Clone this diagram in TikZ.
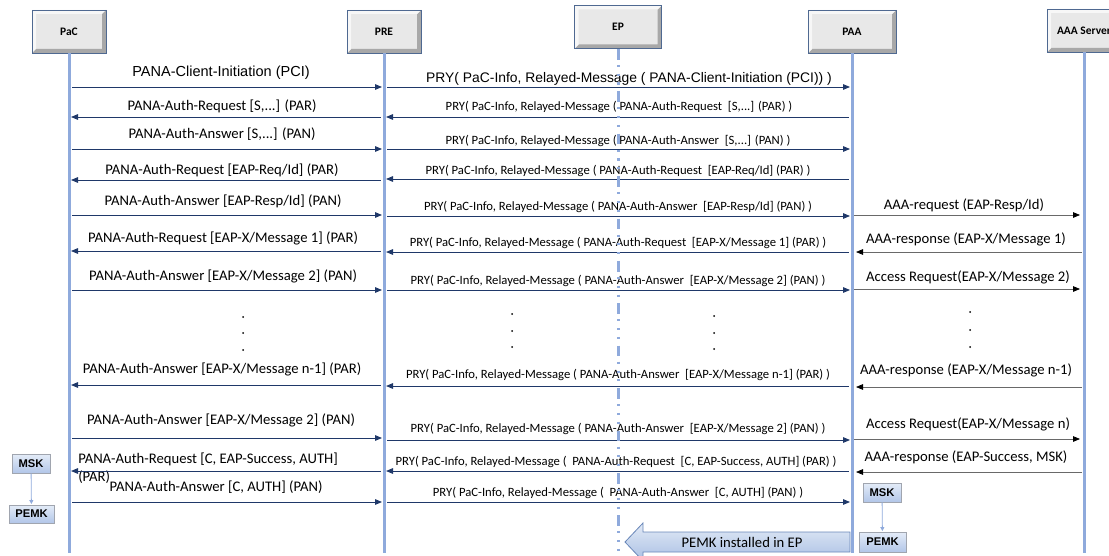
\documentclass[tikz,border=0pt]{standalone}
\usepackage{fontspec}
\setmainfont{Carlito}
\newfontfamily\arialfam{Liberation Sans}
\usetikzlibrary{arrows.meta}

\definecolor{msgnavy}{RGB}{31,56,105}
\definecolor{lifeblue}{RGB}{143,170,220}
\definecolor{boxedge}{RGB}{79,105,145}
\definecolor{boxface}{RGB}{232,232,232}
\definecolor{bevlight}{RGB}{247,247,247}
\definecolor{bevdark}{RGB}{168,168,168}
\definecolor{keytop}{RGB}{228,236,248}
\definecolor{keybot}{RGB}{178,198,232}
\definecolor{keyedge}{RGB}{160,165,175}
\definecolor{aaagray}{RGB}{105,105,105}
\definecolor{bigtop}{RGB}{226,234,246}
\definecolor{bigbot}{RGB}{170,192,228}
\definecolor{bigedge}{RGB}{105,135,185}

\begin{document}
\begin{tikzpicture}[x=0.75pt,y=-0.75pt,
  head/.style={draw=boxedge, line width=0.6pt, fill=boxface,
    minimum height=32.25pt, inner sep=0pt,
    font=\bfseries\fontsize{8.6}{10}\selectfont,
    path picture={
      \fill[bevdark] (path picture bounding box.south west)
        -- (path picture bounding box.south east)
        -- (path picture bounding box.north east)
        -- ([shift={(-3pt,-3pt)}]path picture bounding box.north east)
        -- ([shift={(-3pt,3pt)}]path picture bounding box.south east)
        -- ([shift={(3pt,3pt)}]path picture bounding box.south west) -- cycle;
      \fill[bevlight] (path picture bounding box.south west)
        -- (path picture bounding box.north west)
        -- (path picture bounding box.north east)
        -- ([shift={(-3pt,-3pt)}]path picture bounding box.north east)
        -- ([shift={(3pt,-3pt)}]path picture bounding box.north west)
        -- ([shift={(3pt,3pt)}]path picture bounding box.south west) -- cycle;
    }},
  life/.style={draw=lifeblue, line width=2.25pt},
  eplife/.style={draw=lifeblue, line width=2.25pt,
    dash pattern=on 8pt off 4pt on 1.6pt off 5pt on 1.6pt off 5pt on 1.6pt off 5pt},
  msg/.style={draw=msgnavy, line width=0.7pt,
    -{Triangle[length=5.25pt,width=4.2pt]}, shorten <=2.5pt, shorten >=1.5pt},
  aaamsg/.style={draw=aaagray, line width=0.6pt,
    -{Triangle[length=5.25pt,width=4.2pt,color=black]}, shorten <=1.5pt, shorten >=3pt},
  lab/.style={inner sep=0pt, font=\fontsize{11}{13.5}\selectfont},
  pry/.style={inner sep=0pt, font=\fontsize{9.5}{11}\selectfont},
  keybox/.style={draw=keyedge, line width=0.4pt, top color=keytop, bottom color=keybot,
    inner sep=0pt, font=\arialfam\bfseries\fontsize{8.4}{10}\selectfont},
  keyarrow/.style={draw=lifeblue, line width=0.6pt,
    -{Triangle[length=3pt,width=3pt]}, shorten >=0.5pt},
  dotn/.style={circle, fill=black, inner sep=0pt, minimum size=1.5pt}
]
\useasboundingbox (0,0) rectangle (1109,556);

% participants
\node[head, minimum width=55.5pt] (pac) at (69,31.5) {PaC};
\node[head, minimum width=55.5pt] (pre) at (384,31.5) {PRE};
\node[head, minimum width=65.25pt] (ep) at (618,27) {EP};
\node[head, minimum width=66pt] (paa) at (852,31.5) {PAA};
\node[head, minimum width=55.5pt] (aaa) at (1084,30.5) {AAA Server};

% lifelines
\draw[life] (pac.south) -- (pac.south |- 0,553);
\draw[life] (pre.south) -- (pre.south |- 0,553);
\draw[life] (paa.south) -- (paa.south |- 0,553);
\draw[life] (aaa.south) -- (aaa.south |- 0,553);

% PaC <-> PRE messages
\node[inner sep=0pt, font=\arialfam\fontsize{10.9}{13}\selectfont] (l1) at (221,73) {PANA-Client-Initiation (PCI)};
\draw[msg] (pac |- 0,87) -- (pre |- 0,87);
\node[lab] (l2) at (222,106) {PANA-Auth-Request [S,...] (PAR)};
\draw[msg] (pre |- 0,117) -- (pac |- 0,117);
\node[lab] (l3) at (222,134) {PANA-Auth-Answer [S,...] (PAN)};
\draw[msg] (pac |- 0,149) -- (pre |- 0,149);
\node[lab] (l4) at (222,170) {PANA-Auth-Request [EAP-Req/Id] (PAR)};
\draw[msg] (pre |- 0,180) -- (pac |- 0,180);
\node[lab] (l5) at (223,201) {PANA-Auth-Answer [EAP-Resp/Id] (PAN)};
\draw[msg] (pac |- 0,215) -- (pre |- 0,215);
\node[lab] (l6) at (223,238) {PANA-Auth-Request [EAP-X/Message 1] (PAR)};
\draw[msg] (pre |- 0,251) -- (pac |- 0,251);
\node[lab] (l7) at (223,276) {PANA-Auth-Answer [EAP-X/Message 2] (PAN)};
\draw[msg] (pac |- 0,290) -- (pre |- 0,290);
\node[dotn] (d1a) at (243,317) {};
\node[dotn] (d1b) at (243,333) {};
\node[dotn] (d1c) at (243,350) {};
\node[lab] (l8) at (222,369) {PANA-Auth-Answer [EAP-X/Message n-1] (PAR)};
\draw[msg] (pre |- 0,385) -- (pac |- 0,385);
\node[lab] (l9) at (221,420) {PANA-Auth-Answer [EAP-X/Message 2] (PAN)};
\draw[msg] (pac |- 0,438) -- (pre |- 0,438);
\node[lab, anchor=base west, align=left] (l10) at (78,481) {PANA-Auth-Request [C, EAP-Success, AUTH]\\(PAR)};
\draw[msg] (pre |- 0,471) -- (pac |- 0,471);
\node[lab] (l11) at (216,487) {PANA-Auth-Answer [C, AUTH] (PAN)};
\draw[msg] (pac |- 0,502) -- (pre |- 0,502);

% PRE <-> PAA relayed messages
\node[inner sep=0pt, font=\arialfam\fontsize{10.4}{12.5}\selectfont] (r1) at (629,79) {PRY( PaC-Info, Relayed-Message ( PANA-Client-Initiation (PCI)) )};
\draw[msg] (pre |- 0,87) -- (paa |- 0,87);
\node[pry] (r2) at (619,107) {PRY( PaC-Info, Relayed-Message ( PANA-Auth-Request~ [S,...] (PAR) )};
\draw[msg] (paa |- 0,117) -- (pre |- 0,117);
\node[pry] (r3) at (618,141) {PRY( PaC-Info, Relayed-Message ( PANA-Auth-Answer~ [S,...] (PAN) )};
\draw[msg] (pre |- 0,149) -- (paa |- 0,149);
\node[pry] (r4) at (618,171) {PRY( PaC-Info, Relayed-Message ( PANA-Auth-Request~ [EAP-Req/Id] (PAR) )};
\draw[msg] (paa |- 0,179) -- (pre |- 0,179);
\node[pry] (r5) at (618,207) {PRY( PaC-Info, Relayed-Message ( PANA-Auth-Answer~ [EAP-Resp/Id] (PAN) )};
\draw[msg] (pre |- 0,216) -- (paa |- 0,216);
\node[pry] (r6) at (618,243) {PRY( PaC-Info, Relayed-Message ( PANA-Auth-Request~ [EAP-X/Message 1] (PAR) )};
\draw[msg] (paa |- 0,252) -- (pre |- 0,252);
\node[pry] (r7) at (618,281) {PRY( PaC-Info, Relayed-Message ( PANA-Auth-Answer~ [EAP-X/Message 2] (PAN) )};
\draw[msg] (pre |- 0,290) -- (paa |- 0,290);
\node[dotn] (d2a) at (512,314) {};
\node[dotn] (d2b) at (512,331) {};
\node[dotn] (d2c) at (512,347) {};
\node[dotn] (d3a) at (714,316) {};
\node[dotn] (d3b) at (714,333) {};
\node[dotn] (d3c) at (714,349) {};
\node[pry] (r8) at (618,375) {PRY( PaC-Info, Relayed-Message ( PANA-Auth-Answer~ [EAP-X/Message n-1] (PAR) )};
\draw[msg] (paa |- 0,386) -- (pre |- 0,386);
\node[pry] (r9) at (618,429) {PRY( PaC-Info, Relayed-Message ( PANA-Auth-Answer~ [EAP-X/Message 2] (PAN) )};
\draw[msg] (pre |- 0,440) -- (paa |- 0,440);
\node[pry] (r10) at (616,462) {PRY( PaC-Info, Relayed-Message (~ PANA-Auth-Request~ [C, EAP-Success, AUTH] (PAR) )};
\draw[msg] (paa |- 0,471) -- (pre |- 0,471);
\node[pry] (r11) at (618,493) {PRY( PaC-Info, Relayed-Message (~ PANA-Auth-Answer~ [C, AUTH] (PAN) )};
\draw[msg] (pre |- 0,502) -- (paa |- 0,502);

% PAA <-> AAA server
\node[lab] (a5) at (964,205) {AAA-request (EAP-Resp/Id)};
\draw[aaamsg] (paa |- 0,215) -- (aaa |- 0,215);
\node[lab] (a6) at (966,239) {AAA-response (EAP-X/Message 1)};
\draw[aaamsg] (aaa |- 0,252) -- (paa |- 0,252);
\node[lab] (a7) at (968,277) {Access Request(EAP-X/Message 2)};
\draw[aaamsg] (paa |- 0,289) -- (aaa |- 0,289);
\node[dotn] (d4a) at (970,312) {};
\node[dotn] (d4b) at (970,330) {};
\node[dotn] (d4c) at (970,347) {};
\node[lab] (a8) at (966,370) {AAA-response (EAP-X/Message n-1)};
\draw[aaamsg] (aaa |- 0,387) -- (paa |- 0,387);
\node[lab] (a9) at (968,424) {Access Request(EAP-X/Message n)};
\draw[aaamsg] (paa |- 0,439) -- (aaa |- 0,439);
\node[lab] (a10) at (966,457) {AAA-response (EAP-Success, MSK)};
\draw[aaamsg] (aaa |- 0,472) -- (paa |- 0,472);

% EP lifeline (drawn over the relayed messages)
\draw[eplife] (ep.south) -- (ep.south |- 0,556);

% key derivation
\node[keybox, minimum width=28.5pt, minimum height=14.25pt] (mskL) at (31,463.5) {MSK};
\node[keybox, minimum width=33.75pt, minimum height=13.5pt] (pemkL) at (31.5,514) {PEMK};
\draw[keyarrow] (mskL) -- (pemkL);
\node[keybox, minimum width=28.5pt, minimum height=14.25pt] (mskR) at (882,492.5) {MSK};
\node[keybox, minimum width=35.25pt, minimum height=15pt] (pemkR) at (882.5,542) {PEMK};
\draw[keyarrow] (mskR) -- (pemkR);

% block arrow towards the EP
\begin{scope}
  \clip (0,0) rectangle (1109,556);
  \draw[draw=bigedge, line width=0.6pt, top color=bigtop, bottom color=bigbot]
    (625,542) -- (643,523) -- (643,532) -- (850,532) -- (850,552)
    -- (643,552) -- (643,561) -- cycle;
\end{scope}
\node[lab] (inst) at (742,542) {PEMK installed in EP};
\end{tikzpicture}
\end{document}
